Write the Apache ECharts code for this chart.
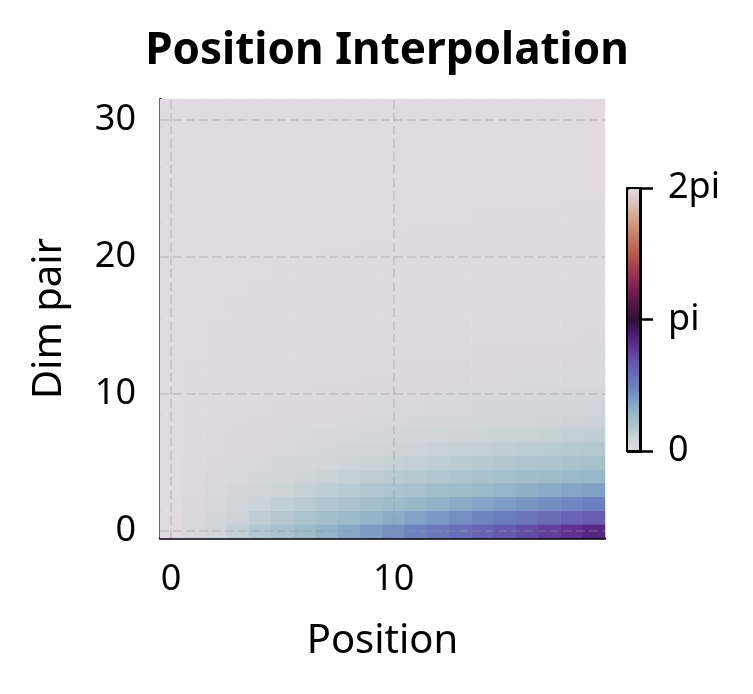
<!DOCTYPE html>
<html>
<head>
<meta charset="utf-8">
<script src="https://cdn.jsdelivr.net/npm/echarts@6/dist/echarts.min.js"></script>
<style>
  html, body { margin: 0; background: #fff; }
  #chart { width: 753px; height: 694px; }
</style>
</head>
<body>
<div id="chart"></div>
<script>
const positions = ["0","1","2","3","4","5","6","7","8","9","10","11","12","13","14","15","16","17","18","19"];
const dimPairs = ["0","1","2","3","4","5","6","7","8","9","10","11","12","13","14","15",
  "16","17","18","19","20","21","22","23","24","25","26","27","28","29","30","31"];

// rotation angle (rad) per dim pair, one row per dim pair, columns = position
const angleRows = [
  [0,0.14,0.28,0.42,0.56,0.70,0.84,0.98,1.12,1.26,1.40,1.54,1.68,1.82,1.96,2.10,2.24,2.38,2.52,2.66],
  [0,0.11,0.22,0.32,0.43,0.54,0.65,0.75,0.86,0.97,1.08,1.19,1.29,1.40,1.51,1.62,1.72,1.83,1.94,2.05],
  [0,0.08,0.17,0.25,0.33,0.42,0.50,0.58,0.66,0.75,0.83,0.91,1.00,1.08,1.16,1.25,1.33,1.41,1.49,1.58],
  [0,0.06,0.13,0.19,0.26,0.32,0.38,0.45,0.51,0.58,0.64,0.70,0.77,0.83,0.89,0.96,1.02,1.09,1.15,1.21],
  [0,0.05,0.10,0.15,0.20,0.25,0.30,0.34,0.39,0.44,0.49,0.54,0.59,0.64,0.69,0.74,0.79,0.84,0.89,0.93],
  [0,0.04,0.08,0.11,0.15,0.19,0.23,0.27,0.30,0.34,0.38,0.42,0.45,0.49,0.53,0.57,0.61,0.64,0.68,0.72],
  [0,0.03,0.06,0.09,0.12,0.15,0.18,0.20,0.23,0.26,0.29,0.32,0.35,0.38,0.41,0.44,0.47,0.50,0.53,0.55],
  [0,0.02,0.05,0.07,0.09,0.11,0.14,0.16,0.18,0.20,0.23,0.25,0.27,0.29,0.32,0.34,0.36,0.38,0.41,0.43],
  [0,0.02,0.03,0.05,0.07,0.09,0.10,0.12,0.14,0.16,0.17,0.19,0.21,0.22,0.24,0.26,0.28,0.29,0.31,0.33],
  [0,0.01,0.03,0.04,0.05,0.07,0.08,0.09,0.11,0.12,0.13,0.15,0.16,0.17,0.19,0.20,0.21,0.23,0.24,0.25],
  [0,0.01,0.02,0.03,0.04,0.05,0.06,0.07,0.08,0.09,0.10,0.11,0.12,0.13,0.14,0.15,0.16,0.18,0.19,0.20],
  [0,0.01,0.02,0.02,0.03,0.04,0.05,0.06,0.06,0.07,0.08,0.09,0.09,0.10,0.11,0.12,0.13,0.13,0.14,0.15],
  [0,0.01,0.01,0.02,0.02,0.03,0.04,0.04,0.05,0.05,0.06,0.07,0.07,0.08,0.09,0.09,0.10,0.10,0.11,0.12],
  [0,0,0.01,0.01,0.02,0.02,0.03,0.03,0.04,0.04,0.05,0.05,0.06,0.06,0.07,0.07,0.08,0.08,0.08,0.09],
  [0,0,0.01,0.01,0.01,0.02,0.02,0.03,0.03,0.03,0.04,0.04,0.04,0.05,0.05,0.05,0.06,0.06,0.06,0.07],
  [0,0,0.01,0.01,0.01,0.01,0.02,0.02,0.02,0.03,0.03,0.03,0.03,0.04,0.04,0.04,0.04,0.05,0.05,0.05],
  [0,0,0,0.01,0.01,0.01,0.01,0.01,0.02,0.02,0.02,0.02,0.03,0.03,0.03,0.03,0.03,0.04,0.04,0.04],
  [0,0,0,0.01,0.01,0.01,0.01,0.01,0.01,0.02,0.02,0.02,0.02,0.02,0.02,0.03,0.03,0.03,0.03,0.03],
  [0,0,0,0,0.01,0.01,0.01,0.01,0.01,0.01,0.01,0.01,0.02,0.02,0.02,0.02,0.02,0.02,0.02,0.02],
  [0,0,0,0,0,0.01,0.01,0.01,0.01,0.01,0.01,0.01,0.01,0.01,0.01,0.02,0.02,0.02,0.02,0.02],
  [0,0,0,0,0,0,0,0.01,0.01,0.01,0.01,0.01,0.01,0.01,0.01,0.01,0.01,0.01,0.01,0.02],
  [0,0,0,0,0,0,0,0,0,0.01,0.01,0.01,0.01,0.01,0.01,0.01,0.01,0.01,0.01,0.01],
  [0,0,0,0,0,0,0,0,0,0,0,0.01,0.01,0.01,0.01,0.01,0.01,0.01,0.01,0.01],
  [0,0,0,0,0,0,0,0,0,0,0,0,0,0,0.01,0.01,0.01,0.01,0.01,0.01],
  [0,0,0,0,0,0,0,0,0,0,0,0,0,0,0,0,0,0,0.01,0.01],
  [0,0,0,0,0,0,0,0,0,0,0,0,0,0,0,0,0,0,0,0],
  [0,0,0,0,0,0,0,0,0,0,0,0,0,0,0,0,0,0,0,0],
  [0,0,0,0,0,0,0,0,0,0,0,0,0,0,0,0,0,0,0,0],
  [0,0,0,0,0,0,0,0,0,0,0,0,0,0,0,0,0,0,0,0],
  [0,0,0,0,0,0,0,0,0,0,0,0,0,0,0,0,0,0,0,0],
  [0,0,0,0,0,0,0,0,0,0,0,0,0,0,0,0,0,0,0,0],
  [0,0,0,0,0,0,0,0,0,0,0,0,0,0,0,0,0,0,0,0]
];

const xTickLabels = ["0", "10"];
const yTickLabels = ["0", "10", "20", "30"];
const colorTickValues = [0, Math.PI, 2 * Math.PI];
const colorTickLabels = ["0", "pi", "2pi"];

// twilight-like cyclic colormap, evenly spaced 0..2pi
const twilight = [
  "#e2d9e2", "#cdd4d9", "#adc4cd", "#96b7c8", "#7d9cc6", "#6b80bf",
  "#6a68b7", "#6452aa", "#5e3294", "#4b196e", "#2f1436", "#4b1441",
  "#6e1c50", "#8c2855", "#a33e52", "#b4584e", "#c1735c", "#cc8e73",
  "#d5aa96", "#dcc4be", "#e2d9e2"
];

const FONT = "Noto Sans";
const heatData = [];
angleRows.forEach((row, k) => {
  row.forEach((v, p) => heatData.push([p, k, v]));
});

const chart = echarts.init(document.getElementById("chart"));
const everyTen = (i) => i % 10 === 0;

chart.setOption({
  animation: false,
  backgroundColor: "#fff",
  textStyle: { fontFamily: FONT },
  title: {
    text: "Position Interpolation",
    left: 382,
    top: 24,
    textAlign: "center",
    textStyle: { fontFamily: FONT, fontWeight: "bold", fontSize: 44, color: "#000" }
  },
  grid: [
    { left: 160, top: 99, width: 445, height: 439 },
    { left: 627, top: 188, width: 13, height: 263, show: true, borderColor: "#000",
      borderWidth: 2, backgroundColor: "transparent", z: 10 }
  ],
  xAxis: [
    {
      type: "category", gridIndex: 0, data: positions,
      name: "Position", nameLocation: "middle", nameGap: 84,
      nameTextStyle: { fontFamily: FONT, fontSize: 40, color: "#000" },
      axisLine: { lineStyle: { color: "#000", width: 2.5 } },
      axisTick: { alignWithLabel: true, interval: everyTen, length: 13, lineStyle: { color: "#000", width: 2.5 } },
      axisLabel: { interval: everyTen, margin: 24, fontSize: 36, color: "#000",
        formatter: (v) => (xTickLabels.includes(v) ? v : "") },
      splitLine: { show: false }
    },
    { type: "value", gridIndex: 1, show: false, min: 0, max: 1 }
  ],
  yAxis: [
    {
      type: "category", gridIndex: 0, data: dimPairs,
      name: "Dim pair", nameLocation: "middle", nameGap: 90,
      nameTextStyle: { fontFamily: FONT, fontSize: 40, color: "#000" },
      axisLine: { lineStyle: { color: "#000", width: 2.5 } },
      axisTick: { alignWithLabel: true, interval: everyTen, length: 13, lineStyle: { color: "#000", width: 2.5 } },
      axisLabel: { interval: everyTen, margin: 24, fontSize: 36, color: "#000",
        formatter: (v) => (yTickLabels.includes(v) ? v : "") },
      splitLine: { show: false }
    },
    {
      type: "value", gridIndex: 1, position: "right",
      min: 0, max: 2 * Math.PI, interval: Math.PI,
      axisLine: { show: true, onZero: false, lineStyle: { color: "#000", width: 2 } },
      axisTick: { show: true, length: 13, lineStyle: { color: "#000", width: 2.5 } },
      axisLabel: { margin: 28, fontSize: 36, color: "#000",
        formatter: (v) => colorTickLabels[Math.round(v / Math.PI)] },
      splitLine: { show: false }
    }
  ],
  visualMap: {
    type: "continuous",
    seriesIndex: 0,
    min: 0, max: 2 * Math.PI,
    calculable: false,
    orient: "vertical",
    left: 627, top: 188,
    itemWidth: 13, itemHeight: 263,
    padding: 0,
    z: 1,
    borderColor: "#000",
    borderWidth: 2,
    text: null,
    inRange: { color: twilight }
  },
  series: [
    {
      type: "heatmap",
      xAxisIndex: 0, yAxisIndex: 0,
      data: heatData,
      itemStyle: { borderWidth: 0 },
      emphasis: { disabled: true },
      markLine: {
        silent: true,
        symbol: "none",
        label: { show: false },
        lineStyle: { color: "rgba(150,150,160,0.3)", width: 2, type: [9, 4] },
        data: [
          { xAxis: "0" }, { xAxis: "10" },
          { yAxis: "0" }, { yAxis: "10" }, { yAxis: "20" }, { yAxis: "30" }
        ]
      }
    },
    {
      // invisible anchor so the colorbar axis draws its ticks
      type: "scatter",
      xAxisIndex: 1, yAxisIndex: 1,
      symbolSize: 0,
      silent: true,
      data: colorTickValues.map((v) => [0.5, v])
    }
  ]
});
</script>
</body>
</html>
